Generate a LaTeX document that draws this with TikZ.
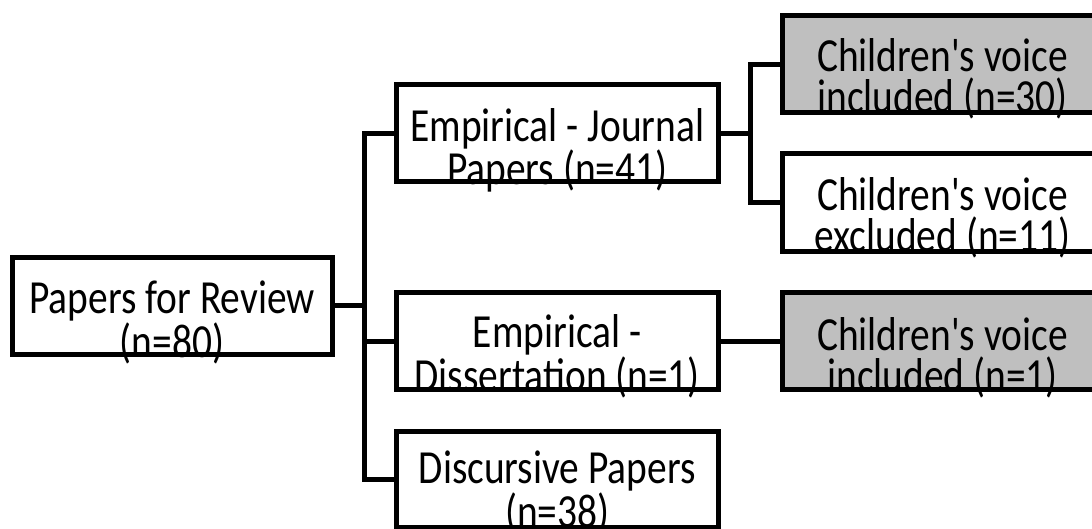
\documentclass[tikz,border=0pt]{standalone}
\usepackage{fontspec}
\setmainfont{Carlito}[Ligatures=TeXOff]
\newfontfamily\widefam{Carlito}[Ligatures=TeXOff, FakeStretch=0.83]
\definecolor{boxgray}{RGB}{191,191,191}
\begin{document}
\begin{tikzpicture}[x=1pt,y=-1pt,
  line width=5pt, line join=miter,
  boxbg/.style={rectangle, inner sep=0pt, outer sep=0pt, fill=white},
  graybg/.style={boxbg, fill=boxgray},
  lbl/.style={inner sep=0pt, align=center, anchor=base, font=\widefam\fontsize{47.5}{41}\selectfont},
  wire/.style={draw=black, line width=5pt}
]
\useasboundingbox (0,0) rectangle (1092,529);
\clip (0,0) rectangle (1092,529);
% boxes (backgrounds)
\node[boxbg, minimum width=320pt, minimum height=96.5pt] (root) at (172,305.75) {};
\node[boxbg, minimum width=322.5pt, minimum height=97pt] (journal) at (557.25,133.5) {};
\node[boxbg, minimum width=322.5pt, minimum height=97pt] (diss) at (557.25,341) {};
\node[boxbg, minimum width=322.5pt, minimum height=96pt] (disc) at (557.25,479.5) {};
\node[graybg, minimum width=320pt, minimum height=97.5pt] (c30) at (942.5,64.25) {};
\node[boxbg, minimum width=320pt, minimum height=97.5pt] (c11) at (942.5,202.75) {};
\node[graybg, minimum width=320pt, minimum height=97pt] (c1) at (942.5,341) {};
% labels (anchor = baseline of the last line)
\node[lbl] (troot) at (172,357) {Papers for Review\\(n=80)};
\node[lbl] (tjournal) at (557.25,185) {Empirical - Journal\\Papers (n=41)};
\node[lbl] (tdiss) at (557.25,391) {Empirical -\\Dissertation (n=1)};
\node[lbl] (tdisc) at (557.25,527) {Discursive Papers\\(n=38)};
\node[lbl] (tc30) at (942.5,113) {Children's voice\\included (n=30)};
\node[lbl] (tc11) at (942.5,252) {Children's voice\\excluded (n=11)};
\node[lbl] (tc1) at (942.5,391) {Children's voice\\included (n=1)};
% borders on top of the text
\foreach \b in {root,journal,diss,disc,c30,c11,c1}
  \draw (\b.north west) rectangle (\b.south east);
% connectors
\coordinate (bus1) at (364.5,0);
\coordinate (bus2) at (750,0);
\draw[wire] (root.east) -- (root.east -| bus1);
\draw[wire] (journal.west) -| (bus1 |- disc.west) -- (disc.west);
\draw[wire] (diss.west) -- (diss.west -| bus1);
\draw[wire] (journal.east) -- (journal.east -| bus2);
\draw[wire] (c30.west) -| (bus2 |- c11.west) -- (c11.west);
\draw[wire] (diss.east) -- (c1.west);
\end{tikzpicture}
\end{document}
